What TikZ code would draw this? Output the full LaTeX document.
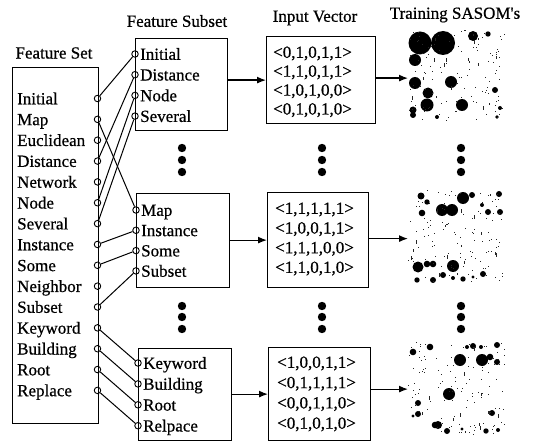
\documentclass[tikz,border=0pt]{standalone}
\usepackage{fontspec}
\setmainfont{Liberation Serif}
\newfontfamily\scanfont[FakeBold=0.6]{Liberation Serif}
\usetikzlibrary{arrows.meta}
\begin{document}
\begin{tikzpicture}[x=1pt,y=-1pt,
  lbl/.style={font=\scanfont\fontsize{17}{17}\selectfont, inner sep=0pt, anchor=base west},
  ttl/.style={font=\scanfont\fontsize{17}{17}\selectfont, inner sep=0pt},
  box/.style={draw, line width=1.2pt, anchor=north west, inner sep=0pt},
  somarea/.style={anchor=north west, inner sep=0pt},
  port/.style={circle, draw, line width=0.9pt, inner sep=0pt, minimum size=6.5pt},
  link/.style={line width=1pt},
  flow/.style={line width=1.2pt, -{Latex[length=9pt,width=7pt]}},
  blob/.style={fill=black},
]
\useasboundingbox (0,0) rectangle (533,441);

% titles
\node[ttl] (tfs) at (54,53) {Feature Set};
\node[ttl] (tsub) at (177,21) {Feature Subset};
\node[ttl] (tinp) at (315,18) {Input Vector};
\node[ttl] (tsom) at (455,15) {Training SASOM's};

% feature set box
\node[box, minimum width=85.5pt, minimum height=356pt] (fsbox) at (12,67) {};
\foreach \w [count=\i from 0] in {Initial,Map,Euclidean,Distance,Network,Node,Several,Instance,Some,Neighbor,Subset,Keyword,Building,Root,Replace} {
  \node[lbl] (fs\i) at (17,{98.5+20.85*\i+5.8}) {\w};
  \node[port] (fp\i) at (97.5,{98.5+20.85*\i}) {};
}

% feature subset boxes
\node[box, minimum width=92pt, minimum height=92pt] (sub1) at (135,38) {};
\node[box, minimum width=93pt, minimum height=94pt] (sub2) at (136,193) {};
\node[box, minimum width=93pt, minimum height=92pt] (sub3) at (138,348) {};

\foreach \w [count=\i from 0] in {Initial,Distance,Node,Several} {
  \node[lbl] (sa\i) at (140,{54+20.7*\i+5.8}) {\w};
  \node[port] (pa\i) at (135,{54+20.7*\i}) {};
}
\foreach \w [count=\i from 0] in {Map,Instance,Some,Subset} {
  \node[lbl] (sb\i) at (141,{210+20.3*\i+5.8}) {\w};
  \node[port] (pb\i) at (136,{210+20.3*\i}) {};
}
\foreach \w [count=\i from 0] in {Keyword,Building,Root,Relpace} {
  \node[lbl] (sc\i) at (143,{363+20.9*\i+5.8}) {\w};
  \node[port] (pc\i) at (138,{363+20.9*\i}) {};
}

% links
\draw[link] (fp0) -- (pa0);
\draw[link] (fp3) -- (pa1);
\draw[link] (fp5) -- (pa2);
\draw[link] (fp6) -- (pa3);
\draw[link] (fp1) -- (pb0);
\draw[link] (fp7) -- (pb1);
\draw[link] (fp8) -- (pb2);
\draw[link] (fp10) -- (pb3);
\draw[link] (fp11) -- (pc0);
\draw[link] (fp12) -- (pc1);
\draw[link] (fp13) -- (pc2);
\draw[link] (fp14) -- (pc3);

% input vector boxes
\node[box, minimum width=109pt, minimum height=87pt] (inp1) at (266,36) {};
\node[box, minimum width=101pt, minimum height=95pt] (inp2) at (267,192) {};
\node[box, minimum width=102pt, minimum height=93pt] (inp3) at (268,347) {};

\foreach \w [count=\i from 0] in {{<0,1,0,1,1>},{<1,1,0,1,1>},{<1,0,1,0,0>},{<0,1,0,1,0>}} {
  \node[lbl] (va\i) at (273,{52+18.9*\i+5.8}) {\w};
}
\foreach \w [count=\i from 0] in {{<1,1,1,1,1>},{<1,0,0,1,1>},{<1,1,1,0,0>},{<1,1,0,1,0>}} {
  \node[lbl] (vb\i) at (275,{208+19.7*\i+5.8}) {\w};
}
\foreach \w [count=\i from 0] in {{<1,0,0,1,1>},{<0,1,1,1,1>},{<0,0,1,1,0>},{<0,1,0,1,0>}} {
  \node[lbl] (vc\i) at (277,{362+20.3*\i+5.8}) {\w};
}

% SASOM areas
\node[somarea, minimum width=97pt, minimum height=94pt] (som1) at (408,28) {};
\node[somarea, minimum width=97pt, minimum height=92pt] (som2) at (408,189) {};
\node[somarea, minimum width=97pt, minimum height=92pt] (som3) at (408,342) {};

% arrows
\draw[flow] (inp1.west -| sub1.east) -- (inp1.west);
\draw[flow] (inp2.west -| sub2.east) -- (inp2.west);
\draw[flow] (inp3.west -| sub3.east) -- (inp3.west);
\draw[flow] ([yshift=2pt]inp1.east) -- ([yshift=2pt]inp1.east -| som1.west);
\draw[flow] ([yshift=1.5pt]inp2.east) -- ([yshift=1.5pt]inp2.east -| som2.west);
\draw[flow] ([yshift=5pt]inp3.east) -- ([yshift=5pt]inp3.east -| som3.west);

% vertical ellipsis dots
\foreach \x in {182,322,461} {
  \foreach \y in {148,160,172,306,317,329} {
    \fill (\x,\y) circle (4.2pt);
  }
}

% SASOM 1 blobs
\foreach \p/\r in {{(420,43)}/11.5, {(443,43)}/12, {(473,36)}/5, {(488,34)}/2.7, {(415,60)}/6,
  {(415,83)}/6, {(451,82)}/6, {(428,93)}/5.5, {(427,105)}/6.5, {(462,105)}/6, {(413,110)}/3.5,
  {(413,115)}/3, {(495,90)}/3, {(500,108)}/2, {(497,117)}/1.8, {(437,117)}/2} {
  \fill[blob] \p circle (\r pt);
}
% SASOM 2 blobs
\foreach \p/\r in {{(421,196)}/3.5, {(427,202)}/2.7, {(463,198)}/6, {(472,195)}/3, {(499,194)}/3,
  {(442,210)}/6, {(452,210)}/6, {(422,213)}/3.3, {(482,205)}/2, {(488,212)}/3, {(500,212)}/3,
  {(418,267)}/5.5, {(427,264)}/3.3, {(433,264)}/3.3, {(453,266)}/6, {(417,280)}/2.7,
  {(433,280)}/3, {(443,275)}/3, {(453,278)}/2, {(463,279)}/2.7, {(483,274)}/3, {(473,277)}/1.7} {
  \fill[blob] \p circle (\r pt);
}
% SASOM 3 blobs
\foreach \p/\r in {{(413,352)}/3.3, {(430,347)}/3.3, {(460,360)}/6, {(482,360)}/6, {(490,357)}/3.3,
  {(497,362)}/3, {(497,345)}/3, {(473,346)}/3, {(467,347)}/2, {(481,347)}/2, {(449,394)}/6,
  {(418,403)}/3, {(418,414)}/3, {(413,416)}/1.7, {(492,413)}/3, {(438,425)}/4, {(435,425)}/3.3,
  {(447,431)}/3, {(486,431)}/2.7, {(498,430)}/2, {(462,429)}/1.7} {
  \fill[blob] \p circle (\r pt);
}

% fine specks
\pgfmathsetseed{17}
\foreach \top in {28,189,342} {
  \foreach \k in {1,...,120} {
    \pgfmathsetmacro\px{408+96*rnd}
    \pgfmathsetmacro\py{\top+92*rnd}
    \pgfmathsetmacro\ps{0.5+0.6*rnd}
    \fill[black!85] (\px,\py) rectangle ++(\ps,\ps);
  }
  \foreach \k in {1,...,12} {
    \pgfmathsetmacro\px{410+92*rnd}
    \pgfmathsetmacro\py{\top+5+82*rnd}
    \fill[black!85] (\px,\py) rectangle ++(0.7,3.5);
  }
}
\end{tikzpicture}
\end{document}
